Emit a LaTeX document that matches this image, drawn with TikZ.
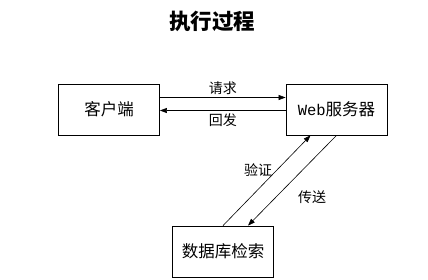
\documentclass[tikz,border=0pt]{standalone}
\usepackage{fontspec}
\usepackage{tikz}
\usetikzlibrary{arrows.meta}
\newfontfamily\cjk{Noto Sans CJK SC}
\newfontfamily\monofont{Liberation Mono}

\begin{document}
\begin{tikzpicture}[
  x=1pt, y=-1pt,
  box/.style={draw, line width=0.8pt, minimum width=101pt, minimum height=51pt, font=\cjk\fontsize{16.5}{16.5}\selectfont},
  lbl/.style={font=\cjk\fontsize{14}{14}\selectfont},
  link/.style={->, line width=0.6pt},
  >={Triangle[length=7pt, width=5pt]},
]
\useasboundingbox (0,0) rectangle (428,279);
\node[font=\cjk\bfseries\fontsize{21.5}{21.5}\selectfont] (title) at (212,21) {执行过程};
\node[box] (client) at (109,109.5) {客户端};
\node[box] (web) at (336.5,109.5) {{\monofont\fontsize{15.5}{15.5}\selectfont Web}服务器};
\node[box] (db) at (223,251.5) {数据库检索};
\draw[link] ([yshift=12pt]client.east) -- node[lbl, above, yshift=-1pt]{请求} ([yshift=12pt]web.west);
\draw[link] ([yshift=-1pt]web.west) -- node[lbl, below]{回发} ([yshift=-1pt]client.east);
\draw[link] (db.north) -- ([xshift=-26pt]web.south);
\draw[link] ([xshift=0pt]web.south) -- ([xshift=25pt]db.north);
\node[lbl] (verify) at (258,170) {验证};
\node[lbl] (send) at (312,197) {传送};
\end{tikzpicture}
\end{document}
